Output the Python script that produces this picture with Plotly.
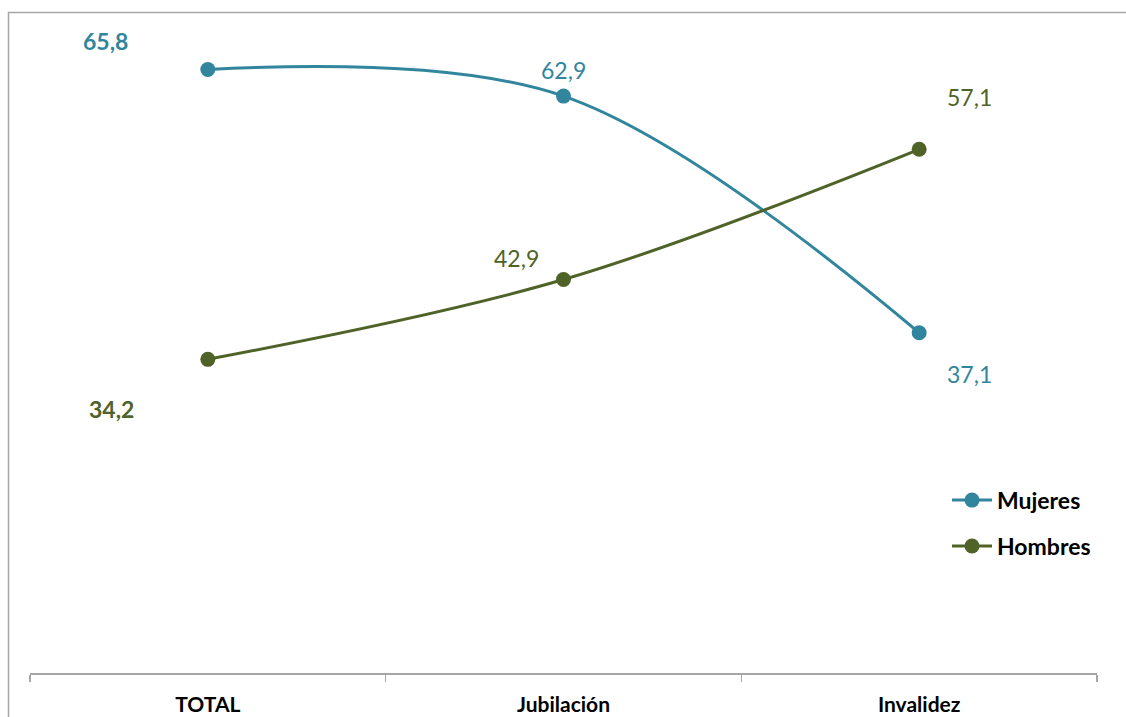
import plotly.graph_objects as go

categories = ["TOTAL", "Jubilación", "Invalidez"]
mujeres = [65.8, 62.9, 37.1]
hombres = [34.2, 42.9, 57.1]

C_M = "#31859C"
C_H = "#4F6228"
FONT = "Lato, 'Open Sans', sans-serif"

fig = go.Figure()
fig.add_trace(go.Scatter(x=categories, y=mujeres, name="Mujeres", mode="lines+markers",
                         legendgroup="m",
                         line=dict(color=C_M, width=3, shape="spline", smoothing=1.0),
                         marker=dict(size=15, color=C_M)))
fig.add_trace(go.Scatter(x=categories, y=hombres, name="Hombres", mode="lines+markers",
                         legendgroup="h",
                         line=dict(color=C_H, width=3, shape="spline", smoothing=1.0),
                         marker=dict(size=15, color=C_H)))

def fmt(v, bold):
    s = f"{v:.1f}".replace(".", ",")
    return f"<b>{s}</b>" if bold else s

m_shift = [(-102, 29), (0, 26), (50, -41)]
h_shift = [(-96, -50), (-47, 22), (50, 52)]
for i, c in enumerate(categories):
    fig.add_annotation(x=c, y=mujeres[i], text=fmt(mujeres[i], i == 0), showarrow=False,
                       xshift=m_shift[i][0], yshift=m_shift[i][1],
                       font=dict(color=C_M, size=23, family=FONT))
    fig.add_annotation(x=c, y=hombres[i], text=fmt(hombres[i], i == 0), showarrow=False,
                       xshift=h_shift[i][0], yshift=h_shift[i][1],
                       font=dict(color=C_H, size=23, family=FONT))

W, H = 1126, 717
L, R, T, B = 30, 29, 31, 43.5
PW, PH = W - L - R, H - T - B

# outer chart border (partially visible)
fig.add_shape(type="rect", xref="paper", yref="paper",
              x0=(8.5 - L) / PW, x1=1.5, y0=-0.5, y1=1 + (T - 12.5) / PH,
              line=dict(color="#A6A6A6", width=1.5), fillcolor="rgba(0,0,0,0)", layer="below")

fig.update_layout(
    width=W, height=H,
    margin=dict(l=L, r=R, t=T, b=B, autoexpand=False),
    paper_bgcolor="white", plot_bgcolor="white",
    font=dict(family=FONT),
    showlegend=True,
    legend=dict(x=(947 - L) / PW, y=(673.5 - 479) / PH, xanchor="left", yanchor="top",
                font=dict(size=23, color="black", family=FONT, weight="bold"),
                bgcolor="rgba(0,0,0,0)", itemwidth=40, tracegroupgap=13),
    xaxis=dict(type="category", range=[-0.5, 2.5], showgrid=False, showline=True,
               automargin=False,
               linecolor="#A6A6A6", linewidth=1.5, ticks="outside", tickson="boundaries",
               ticklen=7, tickcolor="#A6A6A6", tickwidth=1.5, ticklabelstandoff=12,
               tickfont=dict(size=21, color="black", family=FONT, weight="bold"),
               fixedrange=True),
    yaxis=dict(range=[0, 70], visible=False, showgrid=False, zeroline=False,
               automargin=False, fixedrange=True),
)

fig.write_html("out.html", config={"displayModeBar": False, "staticPlot": True},
               post_script="document.body.style.margin='0';document.body.style.overflow='hidden';")
